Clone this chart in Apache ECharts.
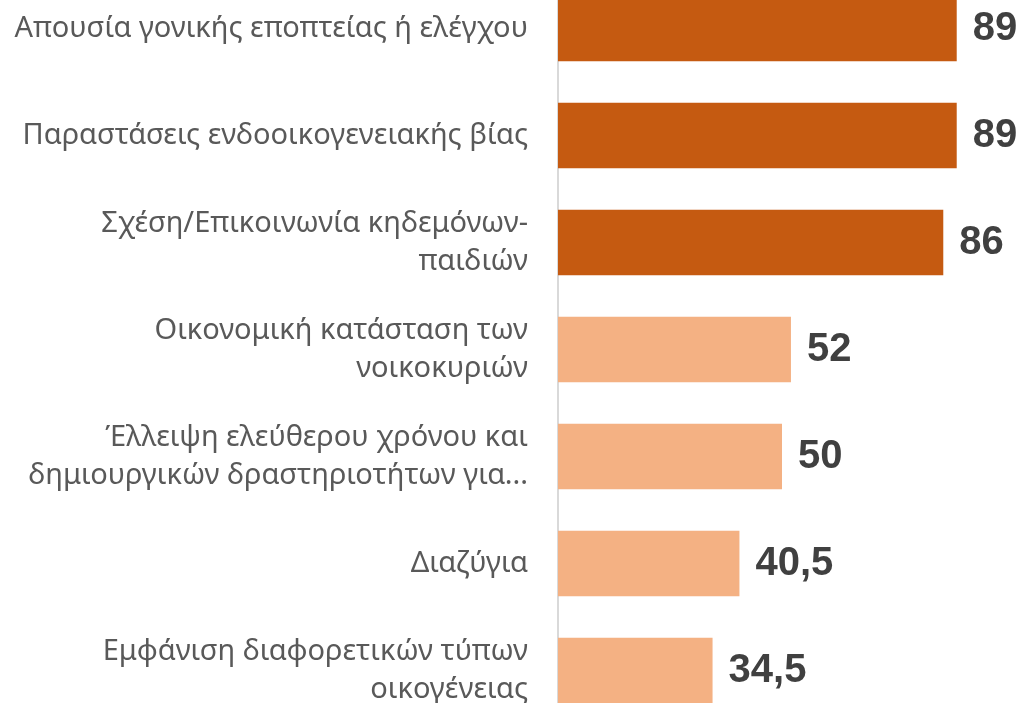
<!DOCTYPE html>
<html>
<head>
<meta charset="utf-8">
<script src="https://cdn.jsdelivr.net/npm/echarts@6/dist/echarts.min.js"></script>
<style>
  html, body { margin: 0; padding: 0; background: #fff; overflow: hidden; width: 1023px; height: 703px; }
  /* the plot bleeds past the top and bottom edge, like the source screenshot */
  #chart { position: absolute; left: 0; top: -25px; width: 1023px; height: 749px; }
</style>
</head>
<body>
<div id="chart"></div>
<script>
// ── data ─────────────────────────────────────────────
const categories = [
  'Απουσία γονικής εποπτείας ή ελέγχου',
  'Παραστάσεις ενδοοικογενειακής βίας',
  'Σχέση/Επικοινωνία κηδεμόνων-\nπαιδιών',
  'Οικονομική κατάσταση των\nνοικοκυριών',
  'Έλλειψη ελεύθερου χρόνου και\nδημιουργικών δραστηριοτήτων για...',
  'Διαζύγια',
  'Εμφάνιση διαφορετικών τύπων\nοικογένειας',
]
const values = [89, 89, 86, 52, 50, 40.5, 34.5]
const highlighted = [true, true, true, false, false, false, false]

const COLOR_DARK  = '#C55A11'
const COLOR_LIGHT = '#F4B183'

const chart = echarts.init(document.getElementById('chart'))

chart.setOption({
  animation: false,
  grid: { left: 558, right: 17, top: 0, bottom: 0, containLabel: false },
  xAxis: {
    type: 'value', min: 0, max: 100,
    show: false,
  },
  yAxis: {
    type: 'category', data: categories, inverse: true,
    axisLine: { show: true, lineStyle: { color: '#d9d9d9', width: 2 } },
    axisTick: { show: false },
    axisLabel: {
      color: '#595959', fontSize: 29, fontFamily: 'Noto Sans',
      margin: 30, lineHeight: 38, align: 'right',
    },
  },
  series: [{
    type: 'bar',
    barWidth: '61%',
    data: values.map((v, i) => ({
      value: v,
      itemStyle: { color: highlighted[i] ? COLOR_DARK : COLOR_LIGHT },
    })),
    label: {
      show: true, position: 'right', distance: 16,
      color: '#404040', fontSize: 40, fontWeight: 'bold',
      fontFamily: 'Liberation Sans',
      formatter: p => String(p.value).replace('.', ','),
    },
  }],
})
</script>
</body>
</html>
